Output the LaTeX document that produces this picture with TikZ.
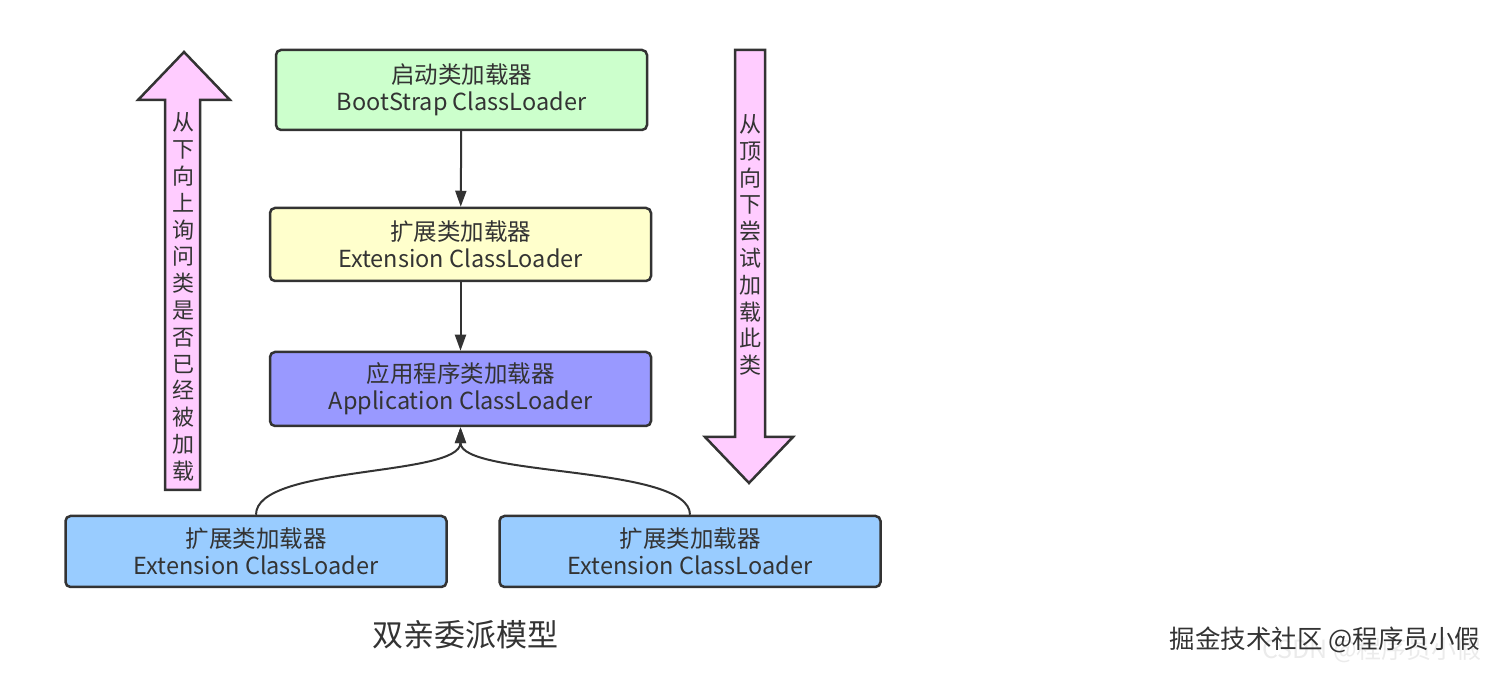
\documentclass[tikz,border=0pt]{standalone}
\usepackage{fontspec}
\setmainfont{Noto Sans CJK SC}
\usetikzlibrary{arrows.meta}
\definecolor{bootGreen}{HTML}{CCFFCC}
\definecolor{extYellow}{HTML}{FFFFCC}
\definecolor{appViolet}{HTML}{9999FF}
\definecolor{childBlue}{HTML}{99CCFF}
\definecolor{hintPink}{HTML}{FFCCFF}
\definecolor{inkGrey}{HTML}{333333}
\begin{document}
\begin{tikzpicture}[%%
  x=1pt,y=1pt,%%
  loaderStyle/.style={draw=inkGrey,line width=2.5pt,rounded corners=5pt,%%
    align=center,font=\fontsize{23.5}{27}\selectfont,text=inkGrey,%%
    minimum width=381pt,minimum height=73pt,inner sep=0pt},%%
  linkStyle/.style={draw=inkGrey,line width=2pt,%%
    -{Triangle[length=16pt,width=11pt]}},%%
  hintStyle/.style={draw=inkGrey,line width=2.5pt,fill=hintPink},%%
  hintText/.style={align=center,font=\fontsize{22}{26.8}\selectfont,text=inkGrey}%%
]
%%
%%
\useasboundingbox (0,0) rectangle (1500,674);
%%
%% The chain of parent loaders.
\node[loaderStyle,fill=bootGreen,minimum width=371pt,minimum height=80pt]
  (boot) at (461.5,584) {启动类加载器\\BootStrap ClassLoader};
\node[loaderStyle,fill=extYellow] (ext) at (460.5,429.5)
  {扩展类加载器\\Extension ClassLoader};
\node[loaderStyle,fill=appViolet,minimum height=74pt] (app) at (460.5,285)
  {应用程序类加载器\\Application ClassLoader};
%%
%% The two child loaders.
\node[loaderStyle,fill=childBlue,minimum height=71pt] (left) at (256,122.5)
  {扩展类加载器\\Extension ClassLoader};
\node[loaderStyle,fill=childBlue,minimum height=71pt] (right) at (690,122.5)
  {扩展类加载器\\Extension ClassLoader};
%%
%% Links between loaders.
\draw[linkStyle] (boot) -- (ext);
\draw[linkStyle] (ext) -- (app);
\draw[linkStyle] (left.north) .. controls +(0,50) and +(0,-50) .. (app.south);
\draw[linkStyle] (right.north) .. controls +(0,50) and +(0,-50) .. (app.south);
%%
%% The upward hint arrow.
\draw[hintStyle] (165,184) -- (165,574) -- (138,574) -- (184,622)
  -- (230,574) -- (200,574) -- (200,184) -- cycle;
\node[hintText] (askUp) at (183,377)
  {从\\下\\向\\上\\询\\问\\类\\是\\否\\已\\经\\被\\加\\载};
%%
%% The downward hint arrow.
\draw[hintStyle] (735,624) -- (735,237) -- (705,237) -- (749,191)
  -- (793,237) -- (765,237) -- (765,624) -- cycle;
\node[hintText] (tryDown) at (750,429)
  {从\\顶\\向\\下\\尝\\试\\加\\载\\此\\类};
%%
%% Caption and credits.
\node[font=\fontsize{31}{35}\selectfont,text=inkGrey] (caption)
  at (465,39) {双亲委派模型};
\node[font=\fontsize{25}{29}\selectfont,text=black!8] (csdn) at (1372,24)
  {CSDN @程序员小假};
\node[font=\fontsize{25.5}{29}\selectfont,text=inkGrey] (credit) at (1325,34)
  {掘金技术社区 @程序员小假};
\end{tikzpicture}
\end{document}
